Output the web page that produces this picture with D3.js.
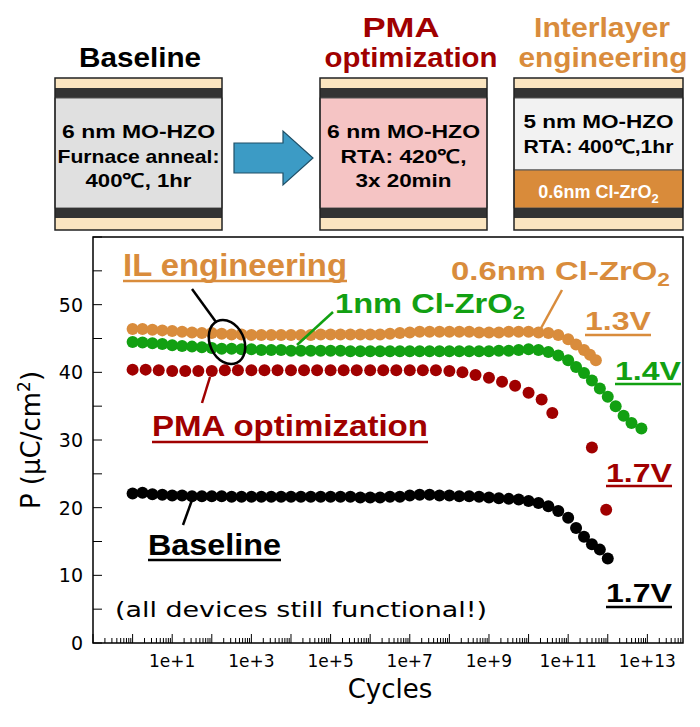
<!DOCTYPE html>
<html><head><meta charset="utf-8">
<script src="https://cdn.jsdelivr.net/npm/d3@7"></script>
<style>body{margin:0;background:#fff}text{font-family:"Liberation Sans",Arial,sans-serif}</style>
</head><body><svg id="c" width="700" height="727"></svg>
<script>
// log10(cycles) and polarization (uC/cm2)
const baseX = [0,0.25,0.5,0.75,1,1.25,1.5,1.75,2,2.25,2.5,2.75,3,3.25,3.5,3.75,4,4.25,4.5,4.75,5,5.25,5.5,5.75,6,6.25,6.5,6.75,7,7.25,7.5,7.75,8,8.25,8.5,8.75,9,9.25,9.5,9.75,10,10.25,10.5,10.75,11,11.2,11.4,11.6,11.8,12];
const baseY = [22.1,22.2,22.0,21.9,21.8,21.8,21.7,21.7,21.7,21.7,21.6,21.6,21.6,21.6,21.6,21.6,21.6,21.6,21.6,21.6,21.6,21.6,21.6,21.5,21.5,21.5,21.6,21.6,21.8,21.9,21.9,21.8,21.8,21.7,21.7,21.6,21.5,21.4,21.3,21.2,21.0,20.7,20.2,19.5,18.5,17.0,15.7,14.6,13.8,12.5];
const pmaX = [0,0.33,0.66,1,1.33,1.66,2,2.33,2.66,3,3.33,3.66,4,4.33,4.66,5,5.33,5.66,6,6.33,6.66,7,7.33,7.66,8,8.33,8.66,9,9.33,9.66,10,10.33,10.6,11.6,11.96];
const pmaY = [40.4,40.4,40.3,40.2,40.2,40.2,40.2,40.3,40.3,40.3,40.3,40.3,40.3,40.3,40.3,40.3,40.3,40.3,40.3,40.3,40.3,40.3,40.3,40.3,40.2,40.0,39.6,39.2,38.6,38.0,37.0,36.0,34.0,28.9,19.7];
const greenX = [0,0.25,0.5,0.75,1,1.25,1.5,1.75,2,2.25,2.5,2.75,3,3.25,3.5,3.75,4,4.25,4.5,4.75,5,5.25,5.5,5.75,6,6.25,6.5,6.75,7,7.25,7.5,7.75,8,8.25,8.5,8.75,9,9.25,9.5,9.75,10,10.25,10.5,10.75,11,11.2,11.4,11.6,11.8,12,12.2,12.4,12.6,12.85];
const greenY = [44.5,44.4,44.3,44.2,44.0,43.9,43.8,43.7,43.6,43.5,43.5,43.4,43.4,43.3,43.3,43.3,43.2,43.2,43.2,43.2,43.2,43.2,43.1,43.1,43.1,43.1,43.1,43.1,43.1,43.1,43.1,43.1,43.1,43.1,43.1,43.1,43.1,43.2,43.2,43.3,43.4,43.3,43.0,42.5,41.8,40.8,39.9,38.8,37.6,36.4,35.0,33.6,32.5,31.7];
const orangeX = [0,0.25,0.5,0.75,1,1.25,1.5,1.75,2,2.25,2.5,2.75,3,3.25,3.5,3.75,4,4.25,4.5,4.75,5,5.25,5.5,5.75,6,6.25,6.5,6.75,7,7.25,7.5,7.75,8,8.25,8.5,8.75,9,9.25,9.5,9.75,10,10.25,10.5,10.75,11,11.2,11.4,11.55,11.7];
const orangeY = [46.4,46.4,46.3,46.2,46.1,46.0,45.9,45.8,45.8,45.7,45.6,45.6,45.5,45.5,45.5,45.5,45.5,45.5,45.5,45.6,45.6,45.6,45.6,45.6,45.6,45.6,45.7,45.8,45.9,46.0,46.0,46.0,46.0,46.0,46.0,45.9,45.9,45.9,46.0,46.0,46.0,45.9,45.8,45.5,44.9,44.1,43.3,42.6,41.8];
const yTicks = [0,10,20,30,40,50];
const xTickExp = [1,3,5,7,9,11,13];

const svg = d3.select('#c');
const C = {orange:'#D98C3C', green:'#12A012', red:'#A00000', black:'#000'};

function txt(g, tx, ty, html, size, fill, len, anchor){
  const t = g.append('text').attr('x',tx).attr('y',ty).attr('font-size',size).attr('font-weight','bold')
    .attr('fill',fill||'#000').attr('text-anchor',anchor||'start').html(html);
  if (len) t.attr('textLength',len).attr('lengthAdjust','spacingAndGlyphs');
  return t;
}

// ---- top stack diagrams ----
function stack(x, w, mid, extra){
  const g = svg.append('g');
  let y = 78;
  [['#FBE5C0',10],['#333',10]].forEach(l=>{g.append('rect').attr('x',x).attr('y',y).attr('width',w).attr('height',l[1]).attr('fill',l[0]);y+=l[1];});
  const midH = extra ? 72 : 110;
  g.append('rect').attr('x',x).attr('y',y).attr('width',w).attr('height',midH).attr('fill',mid).attr('stroke','#555');
  y += midH;
  if (extra){g.append('rect').attr('x',x).attr('y',y).attr('width',w).attr('height',38).attr('fill','#D98B3A').attr('stroke','#555');y+=38;}
  [['#333',10],['#FBE5C0',12]].forEach(l=>{g.append('rect').attr('x',x).attr('y',y).attr('width',w).attr('height',l[1]).attr('fill',l[0]);y+=l[1];});
  g.append('rect').attr('x',x).attr('y',78).attr('width',w).attr('height',y-78).attr('fill','none').attr('stroke','#222').attr('stroke-width',1.5);
  return g;
}
let g1 = stack(55,167,'#E0E0E0');
txt(g1,138.5,138,'6 nm MO-HZO',19,'#000',153,'middle');
txt(g1,138.5,163,'Furnace anneal:',19,'#000',162,'middle');
txt(g1,138.5,187,'400℃, 1hr',19,'#000',106,'middle');
let g2 = stack(320,167,'#F5C4C4');
txt(g2,403.5,138,'6 nm MO-HZO',19,'#000',153,'middle');
txt(g2,403.5,163,'RTA:  420℃,',19,'#000',126,'middle');
txt(g2,403.5,187,'3x 20min',19,'#000',96,'middle');
let g3 = stack(514,169,'#F2F2F2',true);
txt(g3,598.5,128,'5 nm MO-HZO',19,'#000',150,'middle');
txt(g3,598.5,153,'RTA: 400℃,1hr',19,'#000',150,'middle');
txt(g3,598.5,198,'0.6nm Cl-ZrO<tspan font-size="13" dy="5">2</tspan>',18,'#fff',null,'middle');
txt(svg,140,67,'Baseline',28,'#000',122,'middle');
txt(svg,401,37,'PMA',28,C.red,77,'middle');
txt(svg,411,67,'optimization',28,C.red,173,'middle');
txt(svg,602,37,'Interlayer',28,C.orange,136,'middle');
txt(svg,603,67,'engineering',28,C.orange,169,'middle');
svg.append('path').attr('d','M234,143 L283,143 L283,131 L313,158 L283,185 L283,173 L234,173 Z')
  .attr('fill','#3C9BC5').attr('stroke','#1f4f66').attr('stroke-width',1.2);

// ---- plot ----
const L=93,R=683,T=237,B=643;
const x = d3.scaleLog().domain([0.1, Math.pow(10,13.9)]).range([L,R]);
const y = d3.scaleLinear().domain([0,60]).range([B,T]);
svg.append('rect').attr('x',L).attr('y',T).attr('width',R-L).attr('height',B-T).attr('fill','none').attr('stroke','#000').attr('stroke-width',1.5);

const minor = [];
for (let e=-1;e<=13;e++) for (let k=1;k<10;k++){const v=k*Math.pow(10,e); if(v<=x.domain()[1]) minor.push(v);}
svg.append('g').selectAll('line').data(minor).join('line')
  .attr('x1',d=>x(d)).attr('x2',d=>x(d)).attr('y1',B).attr('y2',d=>Math.abs(Math.log10(d)%1)<1e-9?B-9:B-5)
  .attr('stroke','#000').attr('stroke-width',1);
svg.append('g').selectAll('text').data(xTickExp).join('text')
  .attr('x',d=>x(Math.pow(10,d))).attr('y',667).attr('text-anchor','middle').attr('font-size',17)
  .style('font-family','"DejaVu Sans",sans-serif').text(d=>'1e+'+d);
const yt = d3.range(0,61,5);
svg.append('g').selectAll('line').data(yt).join('line')
  .attr('x1',L).attr('x2',L+9).attr('y1',d=>y(d)).attr('y2',d=>y(d)).attr('stroke','#000');
svg.append('g').selectAll('text').data(yTicks).join('text')
  .attr('x',L-10).attr('y',d=>y(d)+7).attr('text-anchor','end').attr('font-size',19)
  .style('font-family','"DejaVu Sans",sans-serif').text(d=>d);
svg.append('text').attr('x',390).attr('y',698).attr('text-anchor','middle').attr('font-size',26)
  .style('font-family','"DejaVu Sans",sans-serif').text('Cycles');
svg.append('text').attr('transform','translate(40,440) rotate(-90)').attr('text-anchor','middle').attr('font-size',26)
  .style('font-family','"DejaVu Sans",sans-serif').html('P (µC/cm<tspan font-size="17" dy="-10">2</tspan><tspan dy="10">)</tspan>');

function dots(xs, ys, col){
  svg.append('g').selectAll('circle').data(xs).join('circle')
    .attr('cx',d=>x(Math.pow(10,d))).attr('cy',(d,i)=>y(ys[i])).attr('r',6).attr('fill',col);
}
dots(baseX,baseY,C.black);
dots(pmaX,pmaY,C.red);
dots(greenX,greenY,C.green);
dots(orangeX,orangeY,C.orange);

// ---- annotations ----
function label(tx,ty,html,size,col,len,ul){
  txt(svg,tx,ty,html,size,col,len);
  if(ul) svg.append('line').attr('x1',tx).attr('x2',tx+len).attr('y1',ul).attr('y2',ul).attr('stroke',col).attr('stroke-width',2.5);
}
function seg(a,col){svg.append('line').attr('x1',a[0]).attr('y1',a[1]).attr('x2',a[2]).attr('y2',a[3]).attr('stroke',col).attr('stroke-width',2.5);}
label(123,276,'IL engineering',31,C.orange,224,281);
seg([192,289,216,322],C.black);
svg.append('ellipse').attr('cx',227).attr('cy',342).attr('rx',17).attr('ry',23).attr('transform','rotate(-25,227,342)')
  .attr('fill','none').attr('stroke','#000').attr('stroke-width',2.5);
label(451,280,'0.6nm Cl-ZrO<tspan font-size="18" dy="6">2</tspan>',26,C.orange,219);
seg([562,290,540,330],C.orange);
label(335,313,'1nm Cl-ZrO<tspan font-size="19" dy="6">2</tspan>',28,C.green,190);
seg([333,312,297,345],C.green);
label(585,330,'1.3V',26,C.orange,66,335);
label(615,380,'1.4V',26,C.green,66,384);
label(152,436,'PMA optimization',30,C.red,276,442);
seg([210,377,202,403],C.red);
label(606,482,'1.7V',26,C.red,66,486);
label(148,555,'Baseline',30,C.black,133,560);
seg([192,500,183,525],C.black);
label(606,602,'1.7V',26,C.black,66,607);
svg.append('text').attr('x',115).attr('y',617).attr('font-size',22).attr('textLength',372).attr('lengthAdjust','spacingAndGlyphs')
  .style('font-family','"DejaVu Sans",sans-serif').text('(all devices still functional!)');
</script></body></html>
